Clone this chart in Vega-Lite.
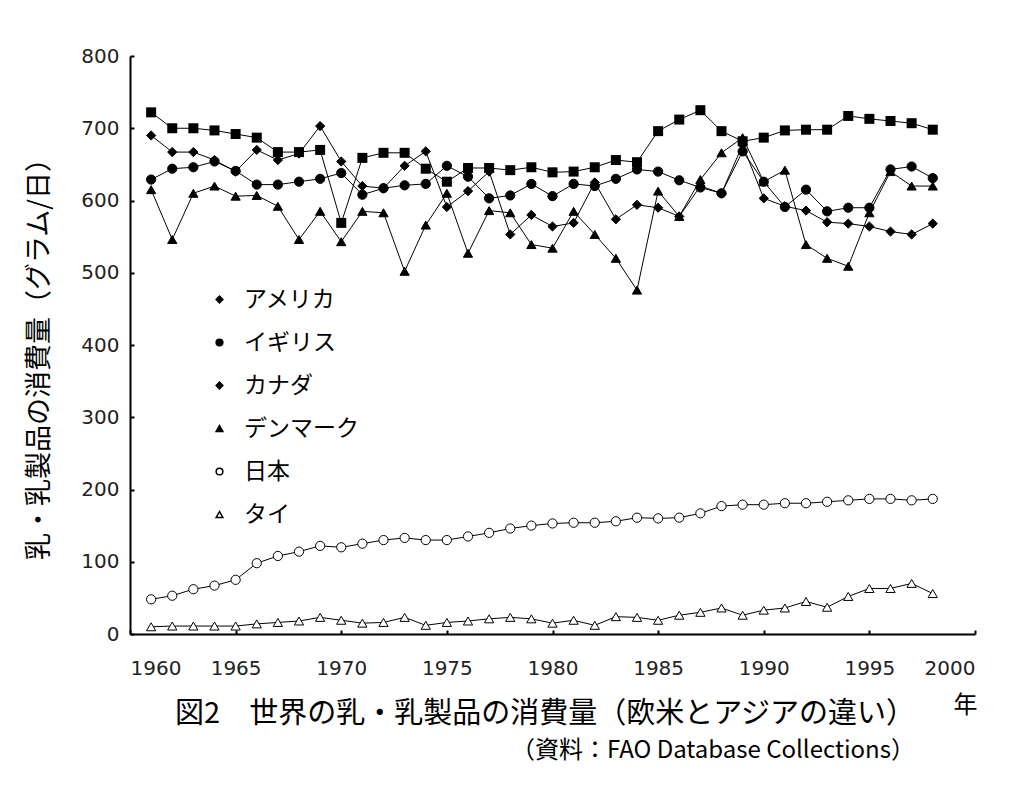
{
  "$schema": "https://vega.github.io/schema/vega-lite/v6.json",
  "width": 845,
  "height": 578,
  "autosize": {"type": "none"},
  "padding": {"left": 130, "top": 56, "right": 49, "bottom": 158},
  "background": "white",
  "config": {
    "view": {"stroke": null},
    "font": "Noto Sans CJK JP"
  },
  "title": {
    "text": "図2　世界の乳・乳製品の消費量（欧米とアジアの違い）",
    "subtitle": "（資料：FAO Database Collections）",
    "orient": "bottom",
    "anchor": "end",
    "frame": "group",
    "font": "Noto Sans CJK JP",
    "fontSize": 29,
    "fontWeight": "normal",
    "color": "black",
    "subtitleFont": "Noto Sans CJK JP",
    "subtitleFontSize": 24,
    "subtitleColor": "black",
    "subtitlePadding": 10,
    "offset": 0,
    "dx": -60,
    "dy": -17
  },
  "data": {
    "values": [
      {"year": 1961, "アメリカ": 722, "イギリス": 629, "カナダ": 690, "デンマーク": 615, "日本": 48, "タイ": 10},
      {"year": 1962, "アメリカ": 700, "イギリス": 644, "カナダ": 667, "デンマーク": 546, "日本": 53, "タイ": 11},
      {"year": 1963, "アメリカ": 700, "イギリス": 646, "カナダ": 667, "デンマーク": 610, "日本": 62, "タイ": 11},
      {"year": 1964, "アメリカ": 697, "イギリス": 654, "カナダ": 656, "デンマーク": 620, "日本": 67, "タイ": 11},
      {"year": 1965, "アメリカ": 692, "イギリス": 641, "カナダ": 640, "デンマーク": 606, "日本": 75, "タイ": 11},
      {"year": 1966, "アメリカ": 687, "イギリス": 622, "カナダ": 670, "デンマーク": 607, "日本": 98, "タイ": 14},
      {"year": 1967, "アメリカ": 667, "イギリス": 622, "カナダ": 656, "デンマーク": 592, "日本": 108, "タイ": 16},
      {"year": 1968, "アメリカ": 667, "イギリス": 626, "カナダ": 665, "デンマーク": 546, "日本": 114, "タイ": 18},
      {"year": 1969, "アメリカ": 670, "イギリス": 630, "カナダ": 703, "デンマーク": 585, "日本": 122, "タイ": 23},
      {"year": 1970, "アメリカ": 569, "イギリス": 638, "カナダ": 654, "デンマーク": 543, "日本": 120, "タイ": 19},
      {"year": 1971, "アメリカ": 659, "イギリス": 608, "カナダ": 620, "デンマーク": 585, "日本": 125, "タイ": 15},
      {"year": 1972, "アメリカ": 666, "イギリス": 617, "カナダ": 617, "デンマーク": 583, "日本": 130, "タイ": 16},
      {"year": 1973, "アメリカ": 666, "イギリス": 621, "カナダ": 648, "デンマーク": 502, "日本": 133, "タイ": 23},
      {"year": 1974, "アメリカ": 644, "イギリス": 623, "カナダ": 668, "デンマーク": 566, "日本": 130, "タイ": 12},
      {"year": 1975, "アメリカ": 626, "イギリス": 648, "カナダ": 591, "デンマーク": 610, "日本": 130, "タイ": 16},
      {"year": 1976, "アメリカ": 645, "イギリス": 633, "カナダ": 613, "デンマーク": 527, "日本": 135, "タイ": 18},
      {"year": 1977, "アメリカ": 645, "イギリス": 603, "カナダ": 640, "デンマーク": 586, "日本": 140, "タイ": 21},
      {"year": 1978, "アメリカ": 642, "イギリス": 607, "カナダ": 553, "デンマーク": 583, "日本": 146, "タイ": 23},
      {"year": 1979, "アメリカ": 646, "イギリス": 623, "カナダ": 580, "デンマーク": 539, "日本": 150, "タイ": 21},
      {"year": 1980, "アメリカ": 639, "イギリス": 606, "カナダ": 564, "デンマーク": 534, "日本": 153, "タイ": 15},
      {"year": 1981, "アメリカ": 640, "イギリス": 623, "カナダ": 569, "デンマーク": 585, "日本": 154, "タイ": 19},
      {"year": 1982, "アメリカ": 646, "イギリス": 620, "カナダ": 625, "デンマーク": 553, "日本": 154, "タイ": 12},
      {"year": 1983, "アメリカ": 656, "イギリス": 630, "カナダ": 574, "デンマーク": 520, "日本": 156, "タイ": 24},
      {"year": 1984, "アメリカ": 653, "イギリス": 643, "カナダ": 594, "デンマーク": 476, "日本": 161, "タイ": 23},
      {"year": 1985, "アメリカ": 696, "イギリス": 640, "カナダ": 590, "デンマーク": 613, "日本": 160, "タイ": 19},
      {"year": 1986, "アメリカ": 712, "イギリス": 628, "カナダ": 578, "デンマーク": 578, "日本": 161, "タイ": 26},
      {"year": 1987, "アメリカ": 725, "イギリス": 618, "カナダ": 620, "デンマーク": 629, "日本": 167, "タイ": 30},
      {"year": 1988, "アメリカ": 696, "イギリス": 610, "カナダ": 610, "デンマーク": 666, "日本": 177, "タイ": 36},
      {"year": 1989, "アメリカ": 682, "イギリス": 668, "カナダ": 677, "デンマーク": 687, "日本": 179, "タイ": 26},
      {"year": 1990, "アメリカ": 687, "イギリス": 626, "カナダ": 603, "デンマーク": 626, "日本": 179, "タイ": 33},
      {"year": 1991, "アメリカ": 697, "イギリス": 591, "カナダ": 592, "デンマーク": 642, "日本": 181, "タイ": 36},
      {"year": 1992, "アメリカ": 698, "イギリス": 615, "カナダ": 586, "デンマーク": 539, "日本": 181, "タイ": 45},
      {"year": 1993, "アメリカ": 698, "イギリス": 585, "カナダ": 570, "デンマーク": 520, "日本": 183, "タイ": 37},
      {"year": 1994, "アメリカ": 717, "イギリス": 590, "カナダ": 568, "デンマーク": 509, "日本": 185, "タイ": 52},
      {"year": 1995, "アメリカ": 713, "イギリス": 590, "カナダ": 564, "デンマーク": 583, "日本": 187, "タイ": 63},
      {"year": 1996, "アメリカ": 710, "イギリス": 643, "カナダ": 557, "デンマーク": 640, "日本": 187, "タイ": 63},
      {"year": 1997, "アメリカ": 707, "イギリス": 647, "カナダ": 553, "デンマーク": 620, "日本": 185, "タイ": 70},
      {"year": 1998, "アメリカ": 698, "イギリス": 631, "カナダ": 568, "デンマーク": 620, "日本": 187, "タイ": 56}
    ]
  },
  "transform": [
    {"fold": ["アメリカ", "イギリス", "カナダ", "デンマーク", "日本", "タイ"], "as": ["country", "value"]}
  ],
  "encoding": {
    "x": {
      "field": "year",
      "type": "quantitative",
      "scale": {"domain": [1960, 2000], "nice": false, "zero": false},
      "axis": {
        "values": [1960, 1965, 1970, 1975, 1980, 1985, 1990, 1995, 2000],
        "format": "d",
        "grid": false,
        "domainColor": "black",
        "domainWidth": 2,
        "tickColor": "black",
        "tickWidth": 2,
        "tickSize": -4,
        "labelPadding": 28,
        "labelFont": "DejaVu Sans",
        "labelFontSize": 20,
        "labelColor": "#222",
        "title": "年",
        "titleFont": "Noto Sans CJK JP",
        "titleFontSize": 24,
        "titleFontWeight": "normal",
        "titleColor": "black",
        "titleX": 835,
        "titleY": 71,
        "titleAlign": "center",
        "titleBaseline": "middle"
      }
    },
    "y": {
      "field": "value",
      "type": "quantitative",
      "scale": {"domain": [0, 800], "nice": false},
      "axis": {
        "values": [0, 100, 200, 300, 400, 500, 600, 700, 800],
        "grid": false,
        "domainColor": "black",
        "domainWidth": 2,
        "tickColor": "black",
        "tickWidth": 2,
        "tickSize": -4,
        "labelPadding": 15,
        "labelFont": "DejaVu Sans",
        "labelFontSize": 20,
        "labelColor": "#222",
        "title": "乳・乳製品の消費量（グラム/日）",
        "titleFont": "Noto Sans CJK JP",
        "titleFontSize": 27,
        "titleFontWeight": "normal",
        "titleColor": "black",
        "titleX": -91,
        "titleY": 296,
        "titleAlign": "center",
        "titleBaseline": "middle",
        "titleAngle": -90
      }
    }
  },
  "layer": [
    {
      "mark": {"type": "line", "color": "black", "strokeWidth": 1},
      "encoding": {"detail": {"field": "country", "type": "nominal"}}
    },
    {
      "transform": [{"filter": "datum.country !== 'アメリカ'"}],
      "mark": {"type": "point", "filled": true, "stroke": "black", "strokeWidth": 1, "opacity": 1, "size": 85},
      "encoding": {
        "shape": {
          "field": "country",
          "type": "nominal",
          "scale": {
            "domain": ["アメリカ", "イギリス", "カナダ", "デンマーク", "日本", "タイ"],
            "range": ["diamond", "circle", "diamond", "triangle-up", "circle", "triangle-up"]
          },
          "legend": {
            "title": null,
            "orient": "none",
            "legendX": 78,
            "legendY": 232,
            "labelFont": "Noto Sans CJK JP",
            "labelFontSize": 23,
            "labelColor": "black",
            "labelOffset": 13,
            "rowPadding": 19,
            "symbolSize": 45,
            "encode": {
              "symbols": {
                "update": {
                  "stroke": {"value": "black"},
                  "strokeWidth": {"value": 1}
                }
              }
            }
          }
        },
        "fill": {
          "field": "country",
          "type": "nominal",
          "scale": {
            "domain": ["アメリカ", "イギリス", "カナダ", "デンマーク", "日本", "タイ"],
            "range": ["black", "black", "black", "black", "white", "white"]
          },
          "legend": {
            "title": null,
            "orient": "none",
            "legendX": 78,
            "legendY": 232,
            "labelFont": "Noto Sans CJK JP",
            "labelFontSize": 23,
            "labelColor": "black",
            "labelOffset": 13,
            "rowPadding": 19,
            "symbolSize": 45,
            "encode": {
              "symbols": {
                "update": {
                  "stroke": {"value": "black"},
                  "strokeWidth": {"value": 1}
                }
              }
            }
          }
        }
      }
    },
    {
      "transform": [{"filter": "datum.country === 'アメリカ'"}],
      "mark": {"type": "point", "shape": "square", "filled": true, "color": "black", "size": 100, "opacity": 1}
    }
  ]
}
